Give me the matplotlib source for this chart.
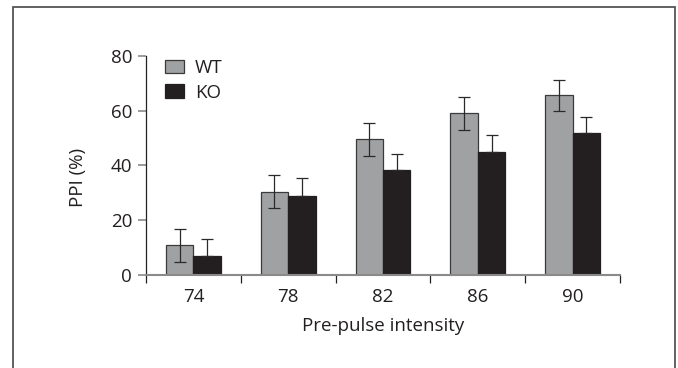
import numpy as np
import matplotlib
matplotlib.use("Agg")
import matplotlib.pyplot as plt
from matplotlib.patches import Rectangle

plt.rcParams['font.family'] = ['Open Sans', 'DejaVu Sans']

# data
intensity = ['74', '78', '82', '86', '90']
wt_mean = [10.9, 30.4, 49.5, 59.0, 65.6]
wt_err = [6.0, 6.0, 6.0, 6.0, 5.7]
ko_mean = [6.9, 28.8, 38.3, 44.8, 51.7]
ko_err = [6.3, 6.5, 6.0, 6.4, 6.1]

txt = '#231f20'
fs = 13.5
fig = plt.figure(figsize=(6.78, 3.68), dpi=100)
ax = fig.add_axes([146 / 678, 1 - 275 / 368, 474 / 678, 219.3 / 368])

x = np.arange(len(intensity))
w = 0.29
ax.bar(x - w / 2, wt_mean, w, color='#a0a1a3', edgecolor='#3a3a3a', linewidth=0.9,
       label='WT', zorder=2)
ax.bar(x + w / 2, ko_mean, w, color='#231f20', edgecolor='#231f20', linewidth=0.9,
       label='KO', zorder=2)
ax.errorbar(x - w / 2, wt_mean, yerr=wt_err, fmt='none', ecolor='#2a2a2a',
            elinewidth=0.9, capsize=4, capthick=0.9, zorder=3)
# KO: only the upper half shows above the black bar
ax.errorbar(x + w / 2, ko_mean, yerr=[np.zeros(len(ko_err)), ko_err], fmt='none',
            ecolor='#2a2a2a', elinewidth=0.9, capsize=4, capthick=0.9, zorder=3)

ax.set_xlim(-0.5, len(intensity) - 0.5)
ax.set_ylim(0, 80)
ax.set_yticks([0, 20, 40, 60, 80])
ax.set_xticks(x)
ax.set_xticklabels(intensity)
ax.set_xticks(np.arange(len(intensity) + 1) - 0.5, minor=True)
ax.tick_params(axis='x', which='major', length=0, pad=9, labelsize=fs, labelcolor=txt)
ax.tick_params(axis='x', which='minor', length=6, width=0.9, color='#222222', direction='out')
ax.tick_params(axis='y', length=6, width=1.2, color='#8a8a8a', pad=4, labelsize=fs,
               labelcolor=txt)

for s in ['top', 'right']:
    ax.spines[s].set_visible(False)
ax.spines['left'].set_color('#222222')
ax.spines['left'].set_linewidth(0.9)
ax.spines['bottom'].set_color('#8a8a8a')
ax.spines['bottom'].set_linewidth(1.5)

ax.set_xlabel('Pre-pulse intensity', fontsize=fs, color=txt, labelpad=8)
ax.set_ylabel('PPI (%)', fontsize=fs, color=txt)
ax.yaxis.set_label_coords(-0.125, 0.445)

leg = ax.legend(loc='upper left', bbox_to_anchor=(0.041, 0.985), frameon=False,
                fontsize=fs, handlelength=0.98, handleheight=0.72, handletextpad=0.6,
                labelspacing=0.35, borderaxespad=0, borderpad=0)
for t in leg.get_texts():
    t.set_color(txt)

# outer frame, open at the bottom
fig.patches.append(Rectangle((13 / 678, -0.1), 662 / 678, 1.1 - 7.5 / 368,
                             transform=fig.transFigure, fill=False,
                             edgecolor='#555555', linewidth=1.3))

fig.savefig('out.png', dpi=100)
